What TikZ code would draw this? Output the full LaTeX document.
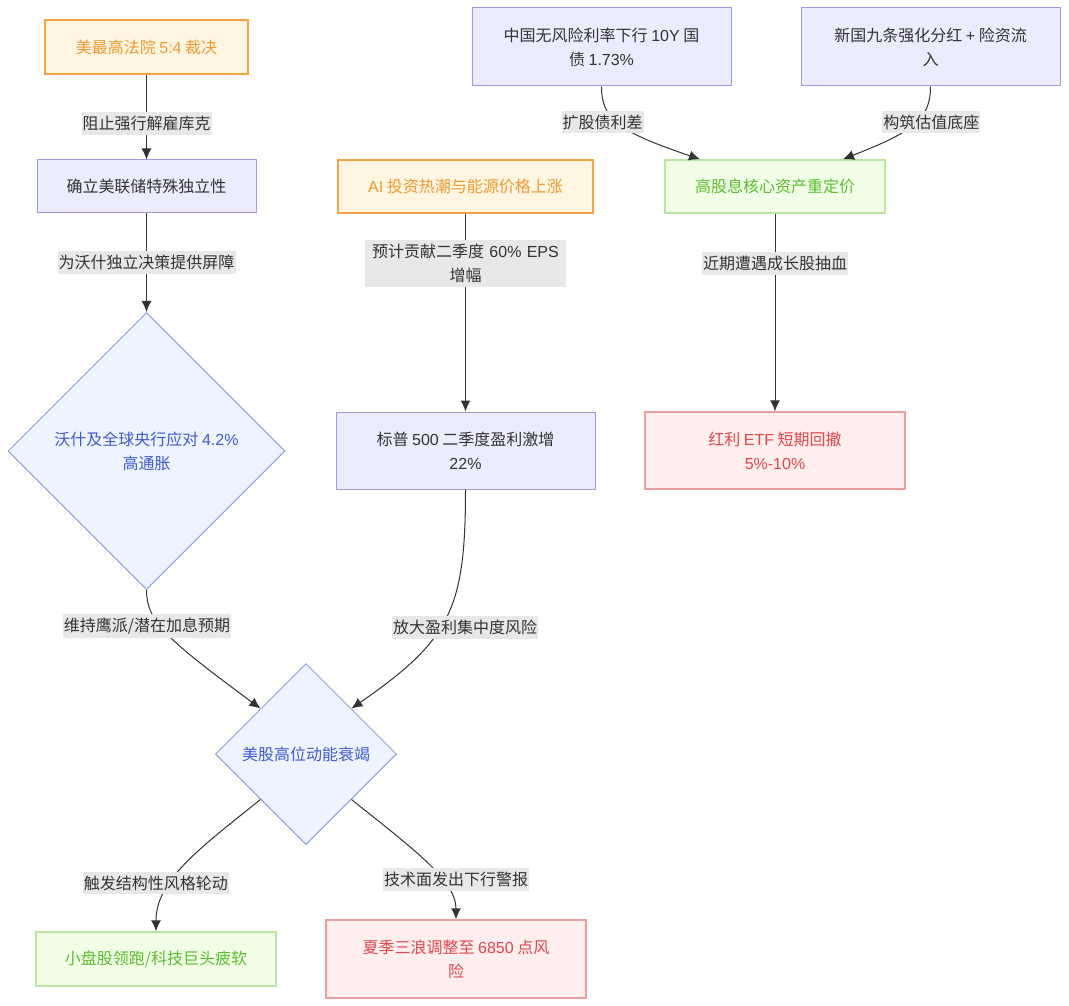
\documentclass[tikz,border=0pt]{standalone}
\usepackage{fontspec}
\setmainfont{Noto Sans CJK SC}
\newfontfamily\enfont{Liberation Sans}
\usepackage{xcolor}
\usepackage{tikz}
\usetikzlibrary{arrows.meta}
\usetikzlibrary{shapes.geometric, calc}

\definecolor{ink}{HTML}{333333}
\definecolor{lblgray}{HTML}{E8E8E8}
\definecolor{orangeline}{HTML}{F4A442}
\definecolor{orangefill}{HTML}{FFF5E1}
\definecolor{orangetext}{HTML}{EF9A34}
\definecolor{purpleline}{HTML}{A996E0}
\definecolor{purplefill}{HTML}{ECECFF}
\definecolor{blueline}{HTML}{8EA3DE}
\definecolor{bluefill}{HTML}{EEF4FF}
\definecolor{bluetext}{HTML}{3E5BD0}
\definecolor{greenline}{HTML}{B9E6A3}
\definecolor{greenfill}{HTML}{F1FFE7}
\definecolor{greentext}{HTML}{5CBC2E}
\definecolor{redline}{HTML}{E9A0A0}
\definecolor{redfill}{HTML}{FFEEEE}
\definecolor{redtext}{HTML}{E0474C}

\tikzset{
  box/.style={rectangle, align=center, inner sep=0pt, font=\fontsize{16}{24}\selectfont},
  orangebox/.style={box, draw=orangeline, fill=orangefill, text=orangetext, line width=2pt},
  purplebox/.style={box, draw=purpleline, fill=purplefill, text=ink, line width=1pt},
  greenbox/.style={box, draw=greenline, fill=greenfill, text=greentext, line width=1.5pt},
  redbox/.style={box, draw=redline, fill=redfill, text=redtext, line width=1.5pt},
  bluediamond/.style={diamond, aspect=1, align=center, inner sep=0pt, draw=blueline, fill=bluefill, text=bluetext, line width=1pt, font=\fontsize{16}{24}\selectfont},
  link/.style={draw=ink, line width=1pt, -{Latex[length=11pt, width=10pt]}},
  lbl/.style={fill=lblgray, text=ink, inner xsep=1pt, inner ysep=4pt, align=center, font=\fontsize{16}{24}\selectfont},
}

\begin{document}
\begin{tikzpicture}[x=1pt, y=-1pt]
    % canvas
    \fill[white] (0,0) rectangle (1069,1006);
    \useasboundingbox (0,0) rectangle (1069,1006);

    % left column
    \node[orangebox, minimum width=203pt, minimum height=54pt] (ruling) at (146.5,47) {美最高法院 {\enfont 5:4} 裁决};
    \node[purplebox, minimum width=219pt, minimum height=53pt] (fedind) at (146.5,186.5) {确立美联储特殊独立性};
    \node[bluediamond, minimum size=277pt] (warsh) at (146.5,451) {沃什及全球央行应对 {\enfont 4.2\%}\\高通胀};

    % middle column
    \node[orangebox, minimum width=255pt, minimum height=53pt] (aiboom) at (465.5,186.5) {{\enfont AI} 投资热潮与能源价格上涨};
    \node[purplebox, minimum width=259pt, minimum height=77pt] (spx) at (465.5,450.5) {标普 {\enfont 500} 二季度盈利激增\\{\enfont 22\%}};

    % right column
    \node[purplebox, minimum width=259pt, minimum height=78pt] (cnrate) at (601.5,47) {中国无风险利率下行 {\enfont 10Y} 国\\债 {\enfont 1.73\%}};
    \node[purplebox, minimum width=259pt, minimum height=78pt] (nine) at (930.5,47) {新国九条强化分红 {\enfont +} 险资流\\入};
    \node[greenbox, minimum width=220pt, minimum height=53pt] (reprice) at (775,186.5) {高股息核心资产重定价};
    \node[redbox, minimum width=260pt, minimum height=77pt] (etf) at (775,450.5) {红利 {\enfont ETF} 短期回撤\\{\enfont 5\%-10\%}};

    % bottom
    \node[bluediamond, minimum size=181pt] (exhaust) at (306,754) {美股高位动能衰竭};
    \node[greenbox, minimum width=240pt, minimum height=54pt] (smallcap) at (156,959) {小盘股领跑/科技巨头疲软};
    \node[redbox, minimum width=260pt, minimum height=78pt] (pullback) at (456,959) {夏季三浪调整至 {\enfont 6850} 点风\\险};

    % connectors
    \draw[link] (ruling) -- node[lbl, pos=0.57] {阻止强行解雇库克} (fedind);
    \draw[link] (fedind) -- node[lbl] {为沃什独立决策提供屏障} (warsh);
    \draw[link] (aiboom) -- node[lbl, pos=0.25, text width=199pt] {预计贡献二季度 {\enfont 60\% EPS}\\增幅} (spx);
    \draw[link] (reprice) -- node[lbl, pos=0.25] {近期遭遇成长股抽血} (etf);
    \draw[link] (cnrate.south) .. controls (601.5,120) and (620,132) .. ($(reprice.north)+(-75,0)$) node[lbl, pos=0.45, xshift=-14pt] {扩股债利差};
    \draw[link] (nine.south) .. controls (930.5,120) and (912,132) .. ($(reprice.north)+(68,0)$) node[lbl, pos=0.45, xshift=15pt] {构筑估值底座};
    \draw[link] (warsh.south) .. controls (146.5,622) and (168,640) .. (exhaust.north west) node[lbl, pos=0.4, xshift=-13pt] {维持鹰派/潜在加息预期};
    \draw[link] (spx.south) .. controls (465.5,610) and (450,640) .. (exhaust.north east) node[lbl, pos=0.55, xshift=25pt] {放大盈利集中度风险};
    \draw[link] (exhaust.south west) .. controls (200,848) and (156,880) .. (smallcap.north) node[lbl, pos=0.65, xshift=-15pt] {触发结构性风格轮动};
    \draw[link] (exhaust.south east) .. controls (412,848) and (456,880) .. (pullback.north) node[lbl, pos=0.65, xshift=15pt] {技术面发出下行警报};
\end{tikzpicture}
\end{document}
